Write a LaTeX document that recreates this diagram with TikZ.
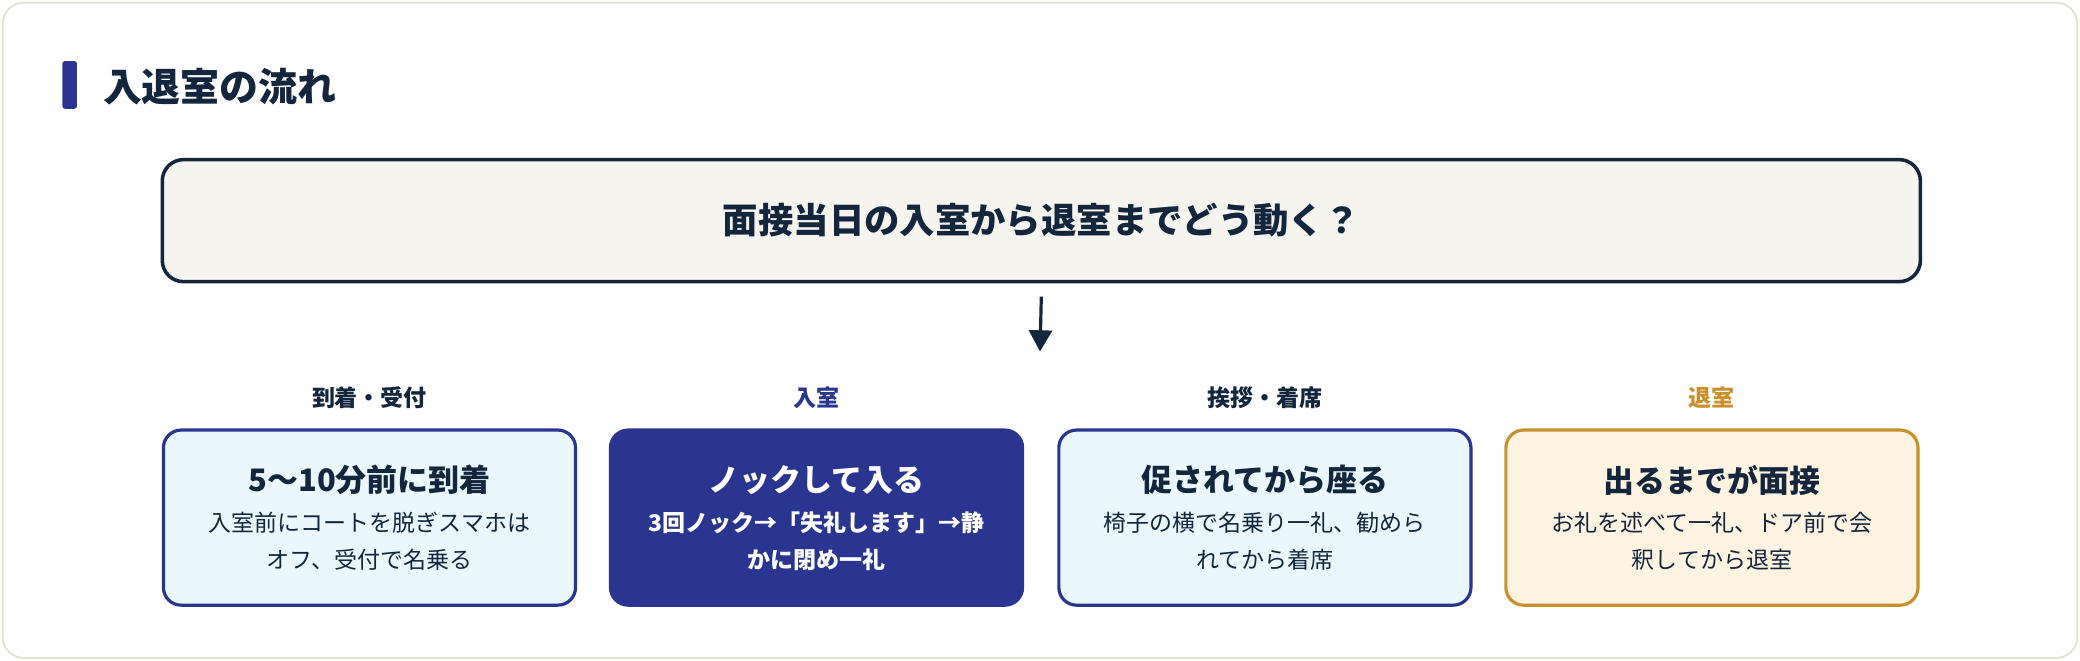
\documentclass[tikz,border=0pt]{standalone}
\usepackage{fontspec}
\setmainfont{Noto Sans CJK JP}
\usetikzlibrary{arrows.meta}
\usetikzlibrary{positioning}
\tikzset{>=Latex}
\definecolor{inkblue}{HTML}{13263D}
\definecolor{stepblue}{HTML}{2A3590}
\definecolor{stepsky}{HTML}{EAF7FD}
\definecolor{papercream}{HTML}{F5F4EF}
\definecolor{frameline}{HTML}{E2E0D3}
\definecolor{exitgold}{HTML}{C8912E}
\definecolor{exitcream}{HTML}{FFF4E2}
\tikzset{stepbox/.style={draw=stepblue,fill=stepsky,line width=1.8pt,rounded corners=10pt,
    minimum width=233pt,minimum height=99pt,anchor=north west,text=inkblue,align=center,inner sep=0pt}}
\tikzset{steplabel/.style={font=\bfseries\fontsize{13}{15}\selectfont,text=inkblue}}
\tikzset{steptitle/.style={font=\bfseries\fontsize{17.5}{21}\selectfont}}
\tikzset{stepbody/.style={font=\fontsize{13}{21}\selectfont}}

\begin{document}
\begin{tikzpicture}[x=0.75pt,y=-0.75pt]
  \useasboundingbox (0,0) rectangle (1568,498);
  \draw [frameline,fill=white,line width=1pt,rounded corners=12pt] (2,2) rectangle (1566,496);
  \fill [stepblue,rounded corners=1.5pt] (47,46) rectangle (58,82);
  \node [anchor=west,text=inkblue,font=\bfseries\fontsize{22}{26}\selectfont] (title) at (73,65) {入退室の流れ};

  \node [draw=inkblue,fill=papercream,line width=2pt,rounded corners=12pt,anchor=north west,
    minimum width=994pt,minimum height=69pt,text=inkblue,font=\bfseries\fontsize{20}{24}\selectfont]
    (question) at (121,119) {面接当日の入室から退室までどう動く？};
  \coordinate (arrowtip) at (784,265);
  \draw [->,inkblue,line width=1.8pt,>={Triangle[length=12pt,width=13pt]}] (question.south) ++(0,10) coordinate (arrowtail) -- (arrowtip);

  % steps
  \node [stepbox] (arrive) at (122,323) {};
  \node [stepbox,fill=stepblue] (enter) at (459,323) {};
  \node [stepbox] (greet) at (797,323) {};
  \node [stepbox,draw=exitgold,fill=exitcream] (leave) at (1134,323) {};

  \node [steplabel] at (arrive.north |- 0,300) {到着・受付};
  \node [steplabel,text=stepblue] at (enter.north |- 0,300) {入室};
  \node [steplabel] at (greet.north |- 0,300) {挨拶・着席};
  \node [steplabel,text=exitgold] at (leave.north |- 0,300) {退室};

  \node [steptitle,text=inkblue] at (arrive.north |- 0,362) {5〜10分前に到着};
  \node [stepbody,text=inkblue,align=center,anchor=north] at (arrive.north |- 0,381) {入室前にコートを脱ぎスマホは\\オフ、受付で名乗る};
  \node [steptitle,text=white] at (enter.north |- 0,362) {ノックして入る};
  \node [stepbody,text=white,align=center,anchor=north,font=\bfseries\fontsize{13}{21}\selectfont] at (enter.north |- 0,381) {3回ノック→「失礼します」→静\\かに閉め一礼};
  \node [steptitle,text=inkblue] at (greet.north |- 0,362) {促されてから座る};
  \node [stepbody,text=inkblue,align=center,anchor=north] at (greet.north |- 0,381) {椅子の横で名乗り一礼、勧めら\\れてから着席};
  \node [steptitle,text=inkblue] at (leave.north |- 0,362) {出るまでが面接};
  \node [stepbody,text=inkblue,align=center,anchor=north] at (leave.north |- 0,381) {お礼を述べて一礼、ドア前で会\\釈してから退室};
\end{tikzpicture}
\end{document}
